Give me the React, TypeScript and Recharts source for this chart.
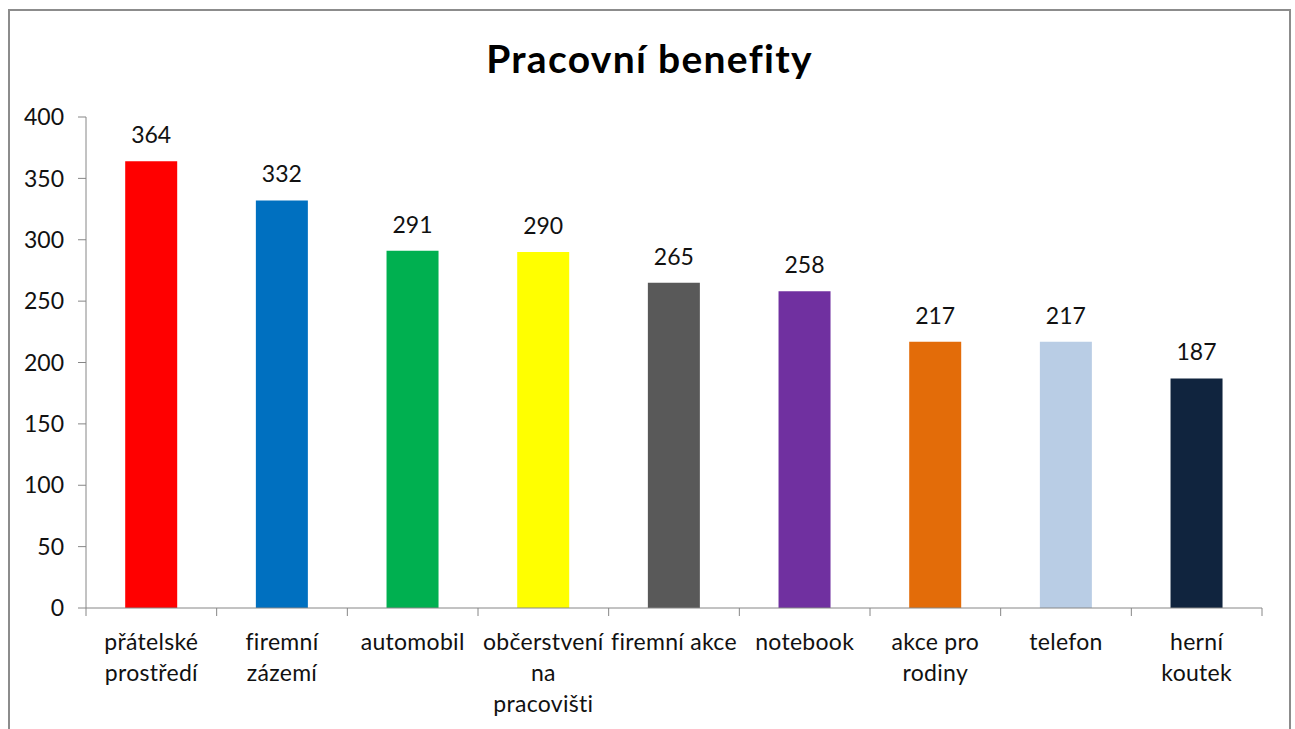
import { BarChart, Bar, XAxis, YAxis, Cell, LabelList } from 'recharts'

const categories = [
  'přátelské prostředí',
  'firemní zázemí',
  'automobil',
  'občerstvení na pracovišti',
  'firemní akce',
  'notebook',
  'akce pro rodiny',
  'telefon',
  'herní koutek',
]
const tickLines = [
  ['přátelské', 'prostředí'],
  ['firemní', 'zázemí'],
  ['automobil'],
  ['občerstvení', 'na', 'pracovišti'],
  ['firemní akce'],
  ['notebook'],
  ['akce pro', 'rodiny'],
  ['telefon'],
  ['herní', 'koutek'],
]
const values = [364, 332, 291, 290, 265, 258, 217, 217, 187]
const colors = [
  '#FF0000',
  '#0070C0',
  '#00B050',
  '#FFFF00',
  '#595959',
  '#7030A0',
  '#E36C09',
  '#B9CDE5',
  '#10243E',
]
const yTicks = [0, 50, 100, 150, 200, 250, 300, 350, 400]

const data = categories.map((name, i) => ({ name, value: values[i] }))

const FONT = 'Lato, "Open Sans", sans-serif'
const AXIS = '#868686'
const TEXT = '#111'

function CategoryTick(props: any) {
  const { x, y, payload, index } = props
  const half = payload?.offset ?? 65.3
  const lines = tickLines[index] || [payload.value]
  return (
    <g>
      <line x1={x - half} y1={y} x2={x - half} y2={y + 8} stroke={AXIS} />
      {index === categories.length - 1 && (
        <line x1={x + half} y1={y} x2={x + half} y2={y + 8} stroke={AXIS} />
      )}
      <text
        x={x}
        y={y}
        textAnchor="middle"
        fontFamily={FONT}
        fontSize={23}
        letterSpacing={0.3}
        fill={TEXT}
      >
        {lines.map((l: string, i: number) => (
          <tspan key={i} x={x} y={y + 42 + i * 31}>
            {l}
          </tspan>
        ))}
      </text>
    </g>
  )
}

export default function App() {
  return (
    <div
      style={{
        position: 'fixed',
        left: 8,
        top: 9,
        width: 1283,
        height: 730,
        boxSizing: 'border-box',
        borderTop: '2px solid #8c8c8c',
        borderLeft: '2px solid #8c8c8c',
        borderRight: '2px solid #8c8c8c',
        background: '#fff',
      }}
    >
      <div
        style={{
          position: 'absolute',
          left: 0,
          right: 0,
          top: 25,
          textAlign: 'center',
          fontFamily: FONT,
          fontWeight: 700,
          fontSize: 39,
          letterSpacing: 1.3,
          color: '#000',
          lineHeight: '44px',
        }}
      >
        Pracovní benefity
      </div>
      <BarChart
        width={1279}
        height={718}
        data={data}
        margin={{ top: 106, right: 27, left: 0, bottom: 0 }}
        barCategoryGap="30%"
      >
        <XAxis
          dataKey="name"
          height={121}
          interval={0}
          tickSize={0}
          tickMargin={0}
          axisLine={{ stroke: AXIS }}
          tick={<CategoryTick />}
        />
        <YAxis
          width={76}
          domain={[0, 400]}
          ticks={yTicks}
          interval={0}
          tickSize={8}
          tickMargin={14}
          axisLine={{ stroke: AXIS }}
          tickLine={{ stroke: AXIS }}
          tick={{ fontFamily: FONT, fontSize: 23, fill: TEXT }}
        />
        <Bar dataKey="value" isAnimationActive={false}>
          {data.map((d, i) => (
            <Cell key={d.name} fill={colors[i]} />
          ))}
          <LabelList
            dataKey="value"
            position="top"
            offset={18}
            fontFamily={FONT}
            fontSize={23}
            fill={TEXT}
          />
        </Bar>
      </BarChart>
    </div>
  )
}
